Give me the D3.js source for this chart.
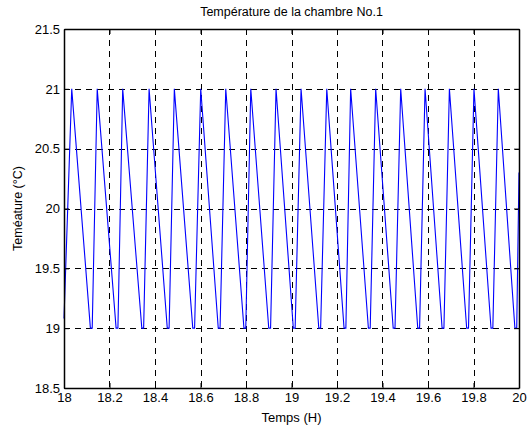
<!DOCTYPE html>
<html><head><meta charset="utf-8">
<script src="https://cdn.jsdelivr.net/npm/d3@7"></script>
<style>
body{margin:0;background:#fff;}
text{font-family:"Liberation Sans",Arial,sans-serif;fill:#000;}
</style></head>
<body><svg id="c" width="532" height="430"></svg>
<script>
const title = "Température de la chambre No.1";
const xLabel = "Temps (H)";
const yLabel = "Teméature (°C)";
const xTicks = [18,18.2,18.4,18.6,18.8,19,19.2,19.4,19.6,19.8,20];
const yTicks = [18.5,19,19.5,20,20.5,21,21.5];
const xDomain = [18,20];
const yDomain = [18.5,21.5];
// vertices of the temperature curve (time in H, temperature in °C)
const times = [18.000,18.034,18.116,18.124,18.146,18.229,18.237,18.258,18.342,18.350,18.374,18.454,18.462,18.485,
  18.566,18.574,18.601,18.678,18.686,18.711,18.791,18.799,18.821,18.900,18.908,18.932,19.008,19.016,19.042,
  19.120,19.128,19.155,19.231,19.239,19.260,19.338,19.346,19.370,19.447,19.455,19.480,19.555,19.563,19.587,
  19.662,19.670,19.694,19.770,19.778,19.802,19.877,19.885,19.909,19.982,19.990,20.000];
const temps = [19.08,21.0,19.0,19.0,21.0,19.0,19.0,21.0,19.0,19.0,21.0,19.0,19.0,21.0,
  19.0,19.0,21.0,19.0,19.0,21.0,19.0,19.0,21.0,19.0,19.0,21.0,19.0,19.0,21.0,
  19.0,19.0,21.0,19.0,19.0,21.0,19.0,19.0,21.0,19.0,19.0,21.0,19.0,19.0,21.0,
  19.0,19.0,21.0,19.0,19.0,21.0,19.0,19.0,21.0,19.0,19.0,20.3];

const svg = d3.select("#c");
const L=64,R=519,T=29,B=388;
const x = d3.scaleLinear().domain(xDomain).range([L,R]);
const y = d3.scaleLinear().domain(yDomain).range([B,T]);
const fmt = d => String(+d.toFixed(1));

// grid
const g = svg.append("g");
g.selectAll(".vx").data(xTicks.filter(d=>d>xDomain[0]&&d<xDomain[1])).enter().append("line")
  .attr("x1",d=>Math.round(x(d))+0.5).attr("x2",d=>Math.round(x(d))+0.5).attr("y1",T).attr("y2",B)
  .attr("stroke","#000").attr("stroke-dasharray","6,5").attr("stroke-width",1);
g.selectAll(".hy").data(yTicks.filter(d=>d>yDomain[0]&&d<yDomain[1])).enter().append("line")
  .attr("y1",d=>Math.round(y(d))+0.5).attr("y2",d=>Math.round(y(d))+0.5).attr("x1",L).attr("x2",R)
  .attr("stroke","#000").attr("stroke-dasharray","6,5").attr("stroke-width",1);

// data line
const pts = times.map((t,i)=>[t,temps[i]]);
svg.append("path").datum(pts)
  .attr("d", d3.line().x(d=>x(d[0])).y(d=>y(d[1])))
  .attr("fill","none").attr("stroke","#0000ff").attr("stroke-width",1.1);

// axes (ticks inside)
const tl = 5;
const axB = svg.append("g").attr("transform",`translate(0,${B})`)
  .call(d3.axisBottom(x).tickValues(xTicks).tickFormat(fmt).tickSizeInner(-tl).tickSizeOuter(0).tickPadding(5));
const axT = svg.append("g").attr("transform",`translate(0,${T})`)
  .call(d3.axisTop(x).tickValues(xTicks).tickFormat("").tickSizeInner(-tl).tickSizeOuter(0));
const axL = svg.append("g").attr("transform",`translate(${L},0)`)
  .call(d3.axisLeft(y).tickValues(yTicks).tickFormat(fmt).tickSizeInner(-tl).tickSizeOuter(0).tickPadding(4));
const axR = svg.append("g").attr("transform",`translate(${R},0)`)
  .call(d3.axisRight(y).tickValues(yTicks).tickFormat("").tickSizeInner(-tl).tickSizeOuter(0));
[axB,axT,axL,axR].forEach(a=>{
  a.selectAll("path").attr("stroke","#000").attr("stroke-width",1.5);
  a.selectAll("line").attr("stroke","#000");
  a.selectAll("text").attr("font-size",13).attr("font-family","Liberation Sans, Arial, sans-serif");
});

svg.append("text").attr("x",(L+R)/2).attr("y",16).attr("text-anchor","middle").attr("font-size",12.5).text(title);
svg.append("text").attr("x",(L+R)/2).attr("y",422).attr("text-anchor","middle").attr("font-size",13).text(xLabel);
svg.append("text").attr("transform",`translate(22,${(T+B)/2}) rotate(-90)`).attr("text-anchor","middle").attr("font-size",12.5).text(yLabel);
</script></body></html>
